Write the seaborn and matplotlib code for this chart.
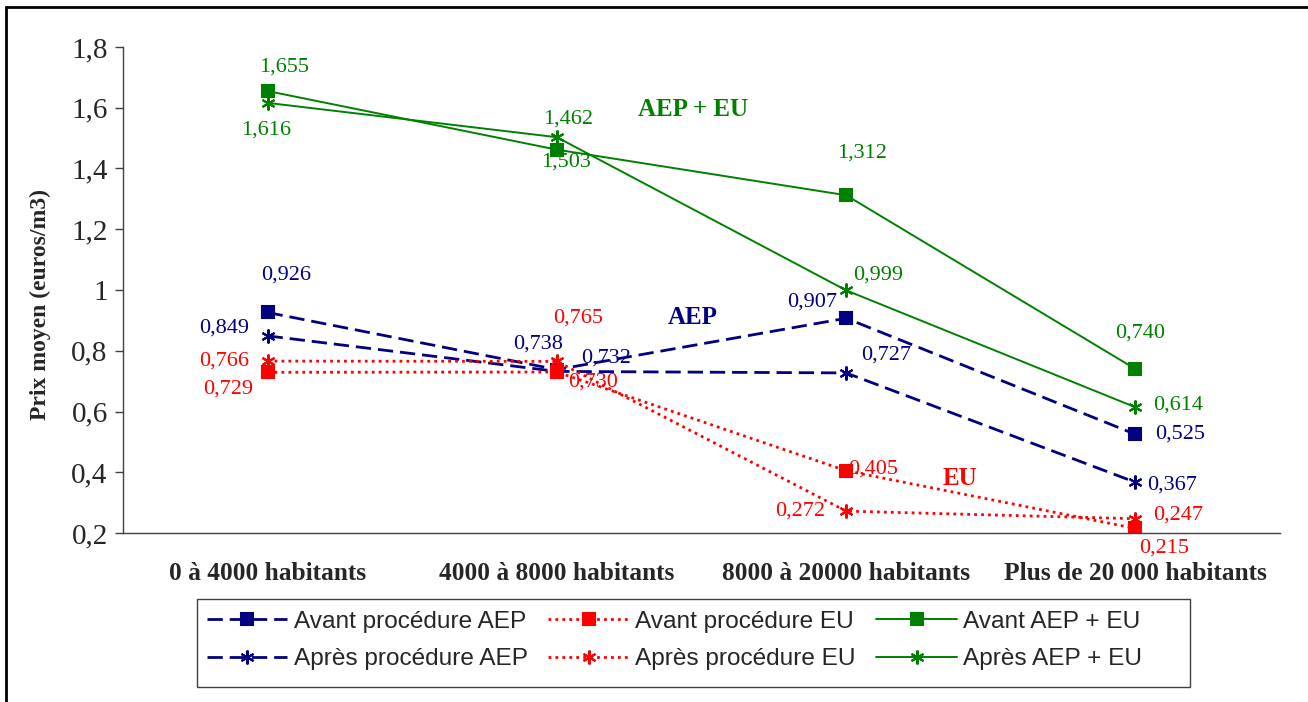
import numpy as np
import matplotlib.pyplot as plt
import seaborn as sns
from matplotlib.patches import Rectangle

# données
categories = ["0 à 4000 habitants", "4000 à 8000 habitants",
              "8000 à 20000 habitants", "Plus de 20 000 habitants"]
avant_aep = [0.926, 0.738, 0.907, 0.525]
apres_aep = [0.849, 0.732, 0.727, 0.367]
avant_eu = [0.729, 0.730, 0.405, 0.215]
apres_eu = [0.766, 0.765, 0.272, 0.247]
avant_tot = [1.655, 1.462, 1.312, 0.740]
apres_tot = [1.616, 1.503, 0.999, 0.614]

# décalage des étiquettes (pixels)
off_avant_aep = [(19, -37), (-19, -26), (-34, -16), (45, 0)]
off_apres_aep = [(-43, -8), (49, -13), (40, -18), (37, 3)]
off_avant_eu = [(-39, 17), (36, 10), (27, -2), (29, 20)]
off_apres_eu = [(-43, 0), (21, -43), (-46, 0), (43, -4)]
off_avant_tot = [(16, -24), (11, -31), (16, -42), (5, -36)]
off_apres_tot = [(-2, 27), (9, 25), (32, -15), (43, -2)]

NAVY, RED, GREEN = "#000080", "#FF0000", "#008000"
star = (6, 2, 0)

sns.set_style("white")
plt.rcParams["font.family"] = ["Liberation Serif", "DejaVu Serif"]

fig = plt.figure(figsize=(13.08, 7.02), dpi=100)
ax = fig.add_axes([123 / 1308, 1 - 533 / 702, 1157 / 1308, 486 / 702])

x = np.arange(len(categories))

series = [
    ("Avant procédure AEP", avant_aep, NAVY, "s", "dash", off_avant_aep),
    ("Après procédure AEP", apres_aep, NAVY, star, "dash", off_apres_aep),
    ("Avant procédure EU", avant_eu, RED, "s", "dot", off_avant_eu),
    ("Après procédure EU", apres_eu, RED, star, "dot", off_apres_eu),
    ("Avant AEP + EU", avant_tot, GREEN, "s", "solid", off_avant_tot),
    ("Après AEP + EU", apres_tot, GREEN, star, "solid", off_apres_tot),
]

handles = []
for name, vals, col, mk, ls, offs in series:
    lw = 1.4 if ls == "solid" else 2.0
    sns.lineplot(x=x, y=vals, ax=ax, color=col, marker=mk, linewidth=lw,
                 markersize=8 if mk == "s" else 10, markeredgewidth=1.5,
                 markeredgecolor=col, markerfacecolor=col, label=name)
    line = ax.lines[-1]
    if ls == "dash":
        line.set_dashes((5.5, 2.5))
    elif ls == "dot":
        line.set_dashes((1, 1.5))
    handles.append(line)
    for xi, v, (dx, dy) in zip(x, vals, offs):
        ax.annotate(f"{v:.3f}".replace(".", ","), (xi, v), xytext=(dx, -dy),
                    textcoords="offset pixels", ha="center", va="center",
                    color=col, fontsize=16)

ax.legend_.remove()

ax.set_xlim(-0.5, 3.5)
ax.set_ylim(0.2, 1.8)
ax.set_yticks(np.arange(0.2, 1.81, 0.2))
ax.set_yticklabels(["0,2", "0,4", "0,6", "0,8", "1", "1,2", "1,4", "1,6", "1,8"],
                   fontsize=21)
ax.set_xticks(np.arange(-0.5, 3.6, 1))
ax.set_xticklabels([])
ax.set_xticks(x, minor=True)
ax.set_xticklabels(categories, minor=True, fontsize=18.3, fontweight="bold")
ax.tick_params(axis="x", which="minor", length=0, pad=21)
ax.tick_params(axis="x", which="major", length=6, width=1, direction="out",
               color="#404040")
ax.tick_params(axis="y", length=6, width=1, direction="out", color="#404040",
               pad=5, left=True)
for side in ["top", "right"]:
    ax.spines[side].set_visible(False)
for side in ["left", "bottom"]:
    ax.spines[side].set_color("#404040")
    ax.spines[side].set_linewidth(1)

ax.set_ylabel("Prix moyen (euros/m3)", fontsize=17, fontweight="bold")
ax.yaxis.set_label_coords(-0.062, 0.47)

ax.text(1.47, 1.593, "AEP + EU", color=GREEN, fontsize=18, fontweight="bold",
        ha="center", va="center")
ax.text(1.47, 0.908, "AEP", color=NAVY, fontsize=18, fontweight="bold",
        ha="center", va="center")
ax.text(2.394, 0.381, "EU", color=RED, fontsize=18, fontweight="bold",
        ha="center", va="center")

leg = fig.legend(handles=handles, ncol=3, loc="upper left",
                 bbox_to_anchor=(197 / 1308, 1 - 601 / 702),
                 prop={"family": "Liberation Sans", "size": 17.6},
                 frameon=False, handlelength=3.3, handletextpad=0.25,
                 columnspacing=0.85, labelspacing=0.62, borderpad=0.4,
                 borderaxespad=0)

# cadre de la légende et cadre extérieur
fig.patches.append(Rectangle((197 / 1308, 1 - 687 / 702), (1190 - 197) / 1308,
                             88 / 702, transform=fig.transFigure, fill=False,
                             edgecolor="#404040", linewidth=1))
fig.patches.append(Rectangle((6 / 1308, -0.1), 1.2, 1 - 7 / 702 + 0.1,
                             transform=fig.transFigure, fill=False,
                             edgecolor="black", linewidth=2))

fig.savefig("out.png", dpi=100)
